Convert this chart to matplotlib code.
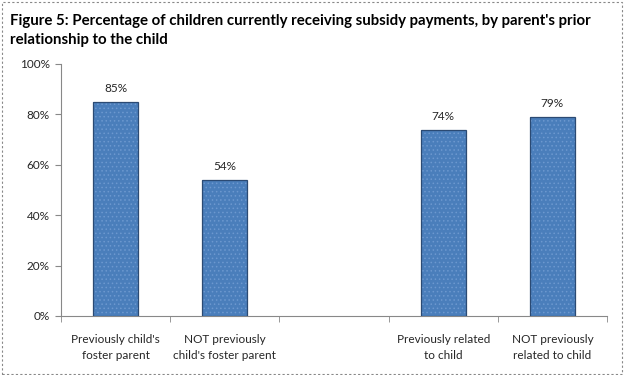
import matplotlib
matplotlib.use("Agg")
import matplotlib.pyplot as plt
from matplotlib.patches import Rectangle

categories = ["Previously child's\nfoster parent", "NOT previously\nchild's foster parent", "",
              "Previously related\nto child", "NOT previously\nrelated to child"]
values = [85, 54, None, 74, 79]
yticks = [0, 20, 40, 60, 80, 100]

plt.rcParams['font.family'] = ['Lato', 'DejaVu Sans']
plt.rcParams['hatch.linewidth'] = 0.6

fig = plt.figure(figsize=(6.24, 3.75), dpi=100)
fig.patches.append(Rectangle((0.003, 0.004), 0.994, 0.99, transform=fig.transFigure,
                             fill=False, edgecolor='#888888', linestyle=(0, (2, 2)), linewidth=0.8))
ax = fig.add_axes([61/624, 1-316/375, 546/624, 252/375])

xs = list(range(len(categories)))
for x, v in zip(xs, values):
    if v is None:
        continue
    ax.bar(x, v, width=0.41, facecolor='#4A7EBB', edgecolor='#6C98CF', linewidth=0,
           hatch='....', zorder=3)
    ax.bar(x, v, width=0.41, fill=False, edgecolor='#2B4A73', linewidth=0.9, zorder=4)
    ax.text(x, v + 3, f"{v}%", ha='center', va='bottom', fontsize=8.5, color='#262626')

ax.set_xlim(-0.5, len(categories) - 0.5)
ax.set_ylim(0, 100)
ax.set_yticks(yticks)
ax.set_yticklabels([f"{t}%" for t in yticks], fontsize=8.5, color='#262626')
ax.set_xticks(xs)
ax.set_xticklabels(categories, fontsize=8.5, color='#262626', linespacing=1.5)
ax.set_xticks([i - 0.5 for i in range(len(categories) + 1)], minor=True)
ax.tick_params(axis='x', which='major', length=0, pad=13)
ax.tick_params(axis='x', which='minor', length=4, color='#888888', direction='out')
ax.tick_params(axis='y', length=4, color='#888888', direction='out', pad=4)
for s in ['top', 'right']:
    ax.spines[s].set_visible(False)
for s in ['left', 'bottom']:
    ax.spines[s].set_color('#888888')
    ax.spines[s].set_linewidth(0.8)

fig.text(10/624, 1-14/375, "Figure 5: Percentage of children currently receiving subsidy payments, by parent's prior\nrelationship to the child",
         ha='left', va='top', fontsize=10.8, fontweight='bold', linespacing=1.45, color='#000000')

fig.savefig("out.png", dpi=100)
